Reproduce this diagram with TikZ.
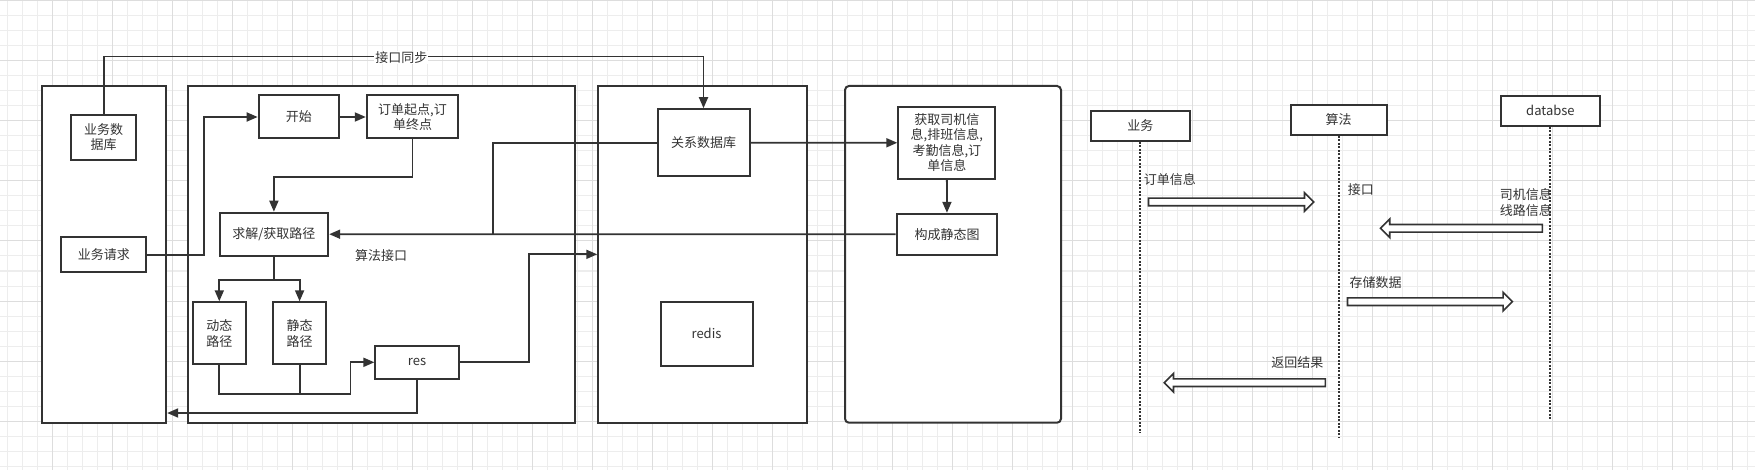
\documentclass[tikz,border=0pt]{standalone}
\usepackage{fontspec}
\setmainfont{Noto Sans CJK SC}
\usepackage{xcolor}
\usetikzlibrary{arrows.meta}
\usetikzlibrary{shapes.arrows}
\definecolor{ink}{HTML}{333333}
\definecolor{gridminor}{HTML}{EDEDED}
\definecolor{gridmajor}{HTML}{DDDDDD}

\begin{document}
\begin{tikzpicture}[
  x=1pt, y=-1pt,
  font=\fontsize{13}{15.5}\selectfont,
  panel/.style={draw=ink, line width=2pt, fill=white, inner sep=0pt},
  box/.style={draw=ink, line width=2pt, fill=white, text=ink, align=center, inner sep=0pt},
  link/.style={draw=ink, line width=1.8pt},
  flow/.style={link, -{Triangle[length=11pt,width=9pt]}},
  lbl/.style={text=ink, inner sep=0pt},
  lifeline/.style={draw=ink, line width=2pt, dash pattern=on 2pt off 1.5pt},
  flexarrow/.style={single arrow, draw=ink, line width=1.6pt, fill=white, inner sep=3pt, single arrow head extend=5.5pt},
]
\useasboundingbox (0,0) rectangle (1755,470);
\fill [white] (0,0) rectangle (1755,470);

% grid
\foreach \gx in {0,...,116} \draw [gridminor, line width=1pt] (7.5+15*\gx,0) -- (7.5+15*\gx,470);
\foreach \gy in {0,...,31} \draw [gridminor, line width=1pt] (0,1+15*\gy) -- (1755,1+15*\gy);
\foreach \gx in {0,...,28} \draw [gridmajor, line width=1pt] (52.5+60*\gx,0) -- (52.5+60*\gx,470);
\foreach \gy in {0,...,7} \draw [gridmajor, line width=1pt] (0,1+60*\gy) -- (1755,1+60*\gy);

% panels
\node [panel, minimum width=124.3pt, minimum height=336.7pt] (bizpanel) at (104,254.35) {};
\node [panel, minimum width=387.1pt, minimum height=336.7pt] (algpanel) at (381.5,254.35) {};
\node [panel, minimum width=208.7pt, minimum height=336.7pt] (storepanel) at (702.6,254.35) {};
\node [panel, rounded corners=4pt, minimum width=216pt, minimum height=336.7pt] (graphpanel) at (953,254.35) {};

% boxes
\node [box, minimum width=65.7pt, minimum height=45pt] (bizdb) at (103.6,137.3) {业务数\\据库};
\node [box, minimum width=85.3pt, minimum height=35pt] (bizreq) at (103.8,254.7) {业务请求};
\node [box, minimum width=80.3pt, minimum height=43pt] (start) at (298.8,117) {开始};
\node [box, minimum width=91.4pt, minimum height=43pt] (odpts) at (412.5,117) {订单起点,订\\单终点};
\node [box, minimum width=108.6pt, minimum height=43pt] (solve) at (273.9,234.2) {求解/获取路径};
\node [box, minimum width=52.8pt, minimum height=62pt] (dynpath) at (219.3,333.3) {动态\\路径};
\node [box, minimum width=53.5pt, minimum height=62pt] (stapath) at (299.6,333.3) {静态\\路径};
\node [box, minimum width=83.2pt, minimum height=33pt] (res) at (417,362.3) {res};
\node [box, minimum width=92pt, minimum height=67pt] (reldb) at (703.5,142.7) {关系数据库};
\node [box, minimum width=92pt, minimum height=64pt] (redis) at (706.5,333.8) {redis};
\node [box, minimum width=97pt, minimum height=72pt] (fetch) at (946.8,142.8) {获取司机信\\息,排班信息,\\考勤信息,订\\单信息};
\node [box, minimum width=100.6pt, minimum height=41pt] (build) at (947,234.3) {构成静态图};
\node [lbl] (alglbl) at (381.1,255.7) {算法接口};

\coordinate (mergept) at (350.4,393.7);
\coordinate (retbend) at (417,413);
\coordinate (dbjoin) at (493.2,234.2);

% connectors
\draw [flow] (bizdb.north) -- ++(0,-57.2) -| (reldb.north);
\node [lbl, fill=white, inner sep=1pt] (synclbl) at (401.4,57.5) {接口同步};
\draw [flow] (bizreq.east) -- ++(56.8,0) |- (start.west);
\draw [flow] (start) -- (odpts);
\draw [flow] (odpts.south) -- ++(0,37.4) -| (solve.north);
\draw [flow] (solve.south) -- ++(0,23) -| (dynpath.north);
\draw [flow] (solve.south) -- ++(0,23) -| (stapath.north);
\draw [flow] (dynpath.south) |- (mergept) |- (res.west);
\draw [link] (stapath.south) -- (stapath.south |- mergept);
\draw [flow] (res.east) -- ++(69.6,0) |- (storepanel.west);
\draw [flow] (res.south) -- (retbend) -- (retbend -| bizpanel.east);
\draw [link] (reldb.west) -| (dbjoin);
\draw [flow] (build.west) -- (solve.east);
\draw [flow] (reldb) -- (fetch);
\draw [flow] (fetch) -- (build);

% sequence
\node [box, minimum width=99.5pt, minimum height=30pt] (bizact) at (1140.4,125.8) {业务};
\node [box, minimum width=96.1pt, minimum height=30pt] (algact) at (1338.7,119.8) {算法};
\node [box, minimum width=99.2pt, minimum height=30pt] (dbact) at (1550.4,110.7) {databse};
\draw [lifeline] (bizact.south) -- ++(0,290.7);
\draw [lifeline] (algact.south) -- ++(0,301.7);
\draw [lifeline] (dbact.south) -- ++(0,292.6);

\node [flexarrow, minimum height=165.3pt] (ordmsg) at (1229.2,202) {};
\node [flexarrow, minimum height=161.9pt, shape border rotate=180] (infomsg) at (1463.3,228.3) {};
\node [flexarrow, minimum height=164.9pt] (storemsg) at (1428,301.7) {};
\node [flexarrow, minimum height=161.2pt, shape border rotate=180] (retmsg) at (1246.7,382.7) {};

\node [lbl, anchor=west] (ordlbl) at (1143.7,180) {订单信息};
\node [lbl, anchor=west] (apilbl) at (1347.6,190) {接口};
\node [lbl, anchor=east, align=right] (infolbl) at (1552,202.5) {司机信息\\线路信息};
\node [lbl, anchor=west] (storelbl) at (1349.3,282.7) {存储数据};
\node [lbl, anchor=east] (retlbl) at (1323.5,362.7) {返回结果};
\end{tikzpicture}
\end{document}
